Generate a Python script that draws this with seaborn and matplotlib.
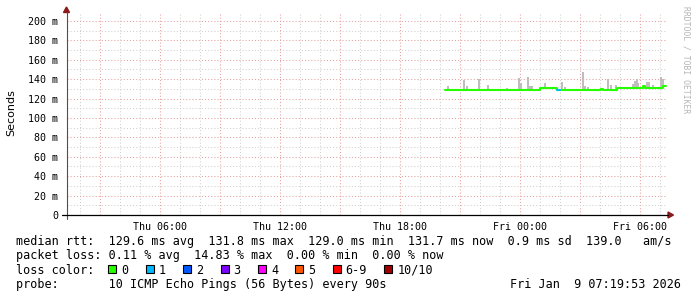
import numpy as np
import pandas as pd
import matplotlib
matplotlib.use("Agg")
import matplotlib.pyplot as plt
import seaborn as sns
from matplotlib.patches import Rectangle, Polygon
from matplotlib.lines import Line2D

# ---------------- data (hours since Thu 00:00) ----------------
median_hours = [20.25, 25.02, 25.85, 28.04, 28.14, 28.865, 30.15, 30.25, 31.135, 31.30]
median_rtt   = [129.0, 131.3, 129.0, 129.6, 129.0, 131.4, 133.3, 131.4, 133.3, 133.3]

loss1_hours = [25.85, 26.00]
loss1_rtt   = [129.0, 129.0]

smoke_hours = [20.42, 21.22, 21.34, 21.97, 22.42, 23.34, 23.93, 24.05, 24.42, 24.50,
               24.62, 25.25, 26.12, 26.25, 27.17, 27.25, 27.42, 28.42, 28.54, 28.80,
               29.65, 29.75, 29.84, 29.90, 30.37, 30.47, 30.67, 31.05, 31.14]
smoke_top   = [133.0, 139.2, 133.3, 140.2, 134.0, 130.6, 141.2, 136.4, 142.6, 133.0,
               133.0, 136.4, 137.4, 132.3, 147.7, 133.0, 132.3, 140.2, 134.0, 134.0,
               135.0, 138.1, 139.9, 136.0, 136.8, 136.8, 134.0, 142.6, 140.2]

x_tick_hours  = [6, 12, 18, 24, 30]
x_tick_labels = ["Thu 06:00", "Thu 12:00", "Thu 18:00", "Fri 00:00", "Fri 06:00"]
y_tick_values = [0, 20, 40, 60, 80, 100, 120, 140, 160, 180, 200]
y_tick_labels = ["0", "20 m", "40 m", "60 m", "80 m", "100 m", "120 m",
                 "140 m", "160 m", "180 m", "200 m"]

loss_labels = ["0", "1", "2", "3", "4", "5", "6-9", "10/10"]
loss_colors = ["#26ff00", "#00b8ff", "#0059ff", "#7e00ff", "#ff00ff",
               "#ff5500", "#ff0000", "#a10000"]

legend_lines = [
    "median rtt:  129.6 ms avg  131.8 ms max  129.0 ms min  131.7 ms now  0.9 ms sd  139.0   am/s",
    "packet loss: 0.11 % avg  14.83 % max  0.00 % min  0.00 % now",
    "loss color:",
    "probe:       10 ICMP Echo Pings (56 Bytes) every 90s",
]
stamp = "Fri Jan  9 07:19:53 2026"

# ---------------- figure ----------------
sns.set_style("white")
plt.rcParams["font.family"] = ["DejaVu Sans Mono", "DejaVu Sans"]
W, H = 697, 297
fig = plt.figure(figsize=(W / 100, H / 100), dpi=100)
fig.patch.set_facecolor("white")

def fx(px):
    return px / W

def fy(py):
    return 1 - py / H

ax = fig.add_axes([fx(66.7), fy(215), 600 / W, 202 / H])
ax.set_facecolor("white")
ax.set_xlim(1.333, 31.333)
ax.set_ylim(0, 208.2)

# grid
ax.set_xticks(np.arange(3, 32, 3))
ax.set_xticks(np.arange(2, 32, 1), minor=True)
ax.set_xticklabels([x_tick_labels[x_tick_hours.index(h)] if h in x_tick_hours else ""
                    for h in np.arange(3, 32, 3)])
ax.set_yticks(y_tick_values)
ax.set_yticklabels(y_tick_labels)
ax.set_yticks(np.arange(10, 210, 10), minor=True)
ax.tick_params(axis="both", which="both", length=0)
ax.tick_params(axis="x", pad=5, labelsize=7.2, colors="black")
ax.tick_params(axis="y", pad=6, labelsize=7.2, colors="black")
ax.grid(which="minor", color="#d0d0d0", linestyle=(0, (1, 2)), linewidth=0.75)
ax.grid(which="major", color="#e6a0a0", linestyle=(0, (1, 2)), linewidth=0.75)
ax.set_axisbelow(True)
for s in ax.spines.values():
    s.set_visible(False)

# smoke
mh = np.array(median_hours)
mv = np.array(median_rtt)
idx = np.clip(np.searchsorted(mh, smoke_hours, side="right") - 1, 0, len(mv) - 1)
ax.vlines(smoke_hours, mv[idx], smoke_top, colors="#bdbdbd", linewidth=1.4, zorder=2)

# median line
df = pd.DataFrame({"hour": median_hours, "rtt": median_rtt})
sns.lineplot(data=df, x="hour", y="rtt", drawstyle="steps-post", color="#26ff00",
             linewidth=1.5, ax=ax, legend=False, zorder=3)
sns.lineplot(x=loss1_hours, y=loss1_rtt, drawstyle="steps-post", color="#00b8ff",
             linewidth=1.5, ax=ax, legend=False, zorder=4)
ax.set_xlabel("")
ax.set_ylabel("")

# axes lines and arrows
fig.add_artist(Line2D([fx(66.5), fx(66.5)], [fy(219), fy(12)], color="#505050", lw=0.8))
fig.add_artist(Line2D([fx(62), fx(668)], [fy(215), fy(215)], color="black", lw=0.9))
arrow_c = "#8b1a1a"
fig.add_artist(Polygon([[fx(66.5), fy(7)], [fx(63.5), fy(12.5)], [fx(69.5), fy(12.5)]],
                       closed=True, color=arrow_c, transform=fig.transFigure))
fig.add_artist(Polygon([[fx(673.5), fy(215)], [fx(668), fy(212)], [fx(668), fy(218)]],
                       closed=True, color=arrow_c, transform=fig.transFigure))

# labels
fig.text(fx(11), fy(113), "Seconds", rotation=90, ha="center", va="center",
         fontsize=8, family=["DejaVu Sans"], color="black")
fig.text(fx(686), fy(60), "RRDTOOL / TOBI OETIKER", rotation=270, ha="center",
         va="center", fontsize=5.8, color="#b5b5b5")

# legend block
baselines = [245, 259.3, 273.5, 287.7]
for line, b in zip(legend_lines, baselines):
    fig.text(fx(16), fy(b), line, ha="left", va="baseline", fontsize=8.5, color="black")
fig.text(fx(681), fy(baselines[3]), stamp, ha="right", va="baseline", fontsize=8.5,
         color="black")

cw = 7.1
xpos = 108.3
for lab, col in zip(loss_labels, loss_colors):
    fig.add_artist(Rectangle((fx(xpos), fy(272.5)), 8 / W, 7.5 / H, facecolor=col,
                             edgecolor="black", linewidth=0.8, transform=fig.transFigure))
    fig.text(fx(xpos + 13), fy(baselines[2]), lab, ha="left", va="baseline",
             fontsize=8.5, color="black")
    xpos += 13 + len(lab) * cw + 17.3

fig.savefig("out.png", dpi=100, facecolor="white")
